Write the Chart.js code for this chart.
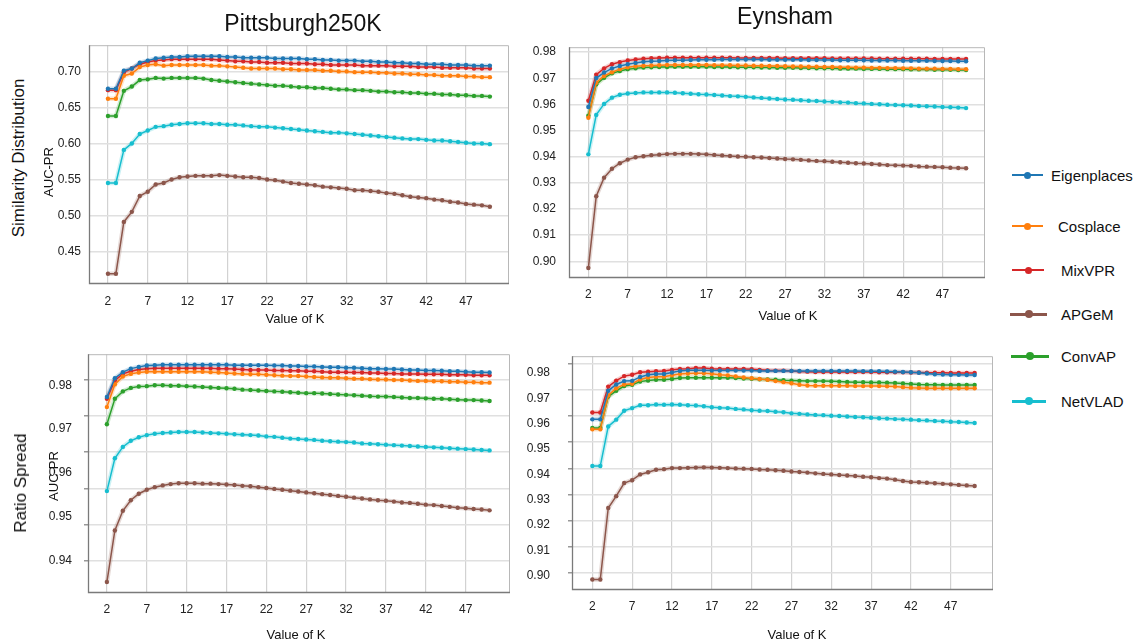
<!DOCTYPE html>
<html>
<head>
<meta charset="utf-8">
<script src="https://cdn.jsdelivr.net/npm/chart.js@4.4.1/dist/chart.umd.min.js"></script>
<style>
body { margin: 0; background: #fff; font-family: "Liberation Sans", Arial, sans-serif; }
#page { position: relative; width: 1134px; height: 643px; overflow: hidden; background: #fff; }
canvas { position: absolute; }
.txt { position: absolute; white-space: nowrap; color: #111; transform: translate(-50%, -50%); z-index: 2; }
.rot { transform: translate(-50%, -50%) rotate(-90deg); }
.leg { position: absolute; height: 0; }
.leg .line { position: absolute; top: 0; }
.leg .dot { position: absolute; border-radius: 50%; }
.leg .name { position: absolute; font-size: 15px; color: #111; white-space: nowrap; transform: translateY(-50%); }
</style>
</head>
<body>
<div id="page">
  <canvas id="pittSim"></canvas>
  <canvas id="eynSim"></canvas>
  <canvas id="pittRatio"></canvas>
  <canvas id="eynRatio"></canvas>

  <div class="txt" style="left:303px;top:23px;font-size:23px;">Pittsburgh250K</div>
  <div class="txt" style="left:785px;top:16px;font-size:23px;">Eynsham</div>
  <div class="txt rot" style="left:19px;top:158px;font-size:17px;">Similarity Distribution</div>
  <div class="txt rot" style="left:21px;top:483px;font-size:17px;">Ratio Spread</div>
  <div class="txt rot" style="left:48px;top:172px;font-size:13px;">AUC-PR</div>
  <div class="txt rot" style="left:53px;top:476px;font-size:13px;">AUC-PR</div>
  <div class="txt" style="left:295px;top:318px;font-size:13px;">Value of K</div>
  <div class="txt" style="left:788px;top:315px;font-size:13px;">Value of K</div>
  <div class="txt" style="left:296px;top:634px;font-size:13px;">Value of K</div>
  <div class="txt" style="left:797px;top:634px;font-size:13px;">Value of K</div>
  <div id="legend"></div>
</div>
<script>
// K from 2 to 50
const kValues = [2, 3, 4, 5, 6, 7, 8, 9, 10, 11, 12, 13, 14, 15, 16, 17, 18, 19, 20, 21, 22, 23, 24, 25, 26,
    27, 28, 29, 30, 31, 32, 33, 34, 35, 36, 37, 38, 39, 40, 41, 42, 43, 44, 45, 46, 47, 48, 49, 50];
const kTicks = [2, 7, 12, 17, 22, 27, 32, 37, 42, 47];

const methods = ['Eigenplaces', 'Cosplace', 'MixVPR', 'APGeM', 'ConvAP', 'NetVLAD'];

// Pittsburgh250K - Similarity Distribution
const pittSimEigenplaces = [0.677, 0.677, 0.702, 0.705, 0.713, 0.716, 0.719, 0.720, 0.721, 0.721, 0.722, 0.722, 0.722, 0.722, 0.722,
    0.721, 0.721, 0.720, 0.720, 0.720, 0.720, 0.719, 0.719, 0.719, 0.719, 0.718, 0.718, 0.717, 0.717, 0.716, 0.716, 0.716,
    0.715, 0.715, 0.714, 0.714, 0.713, 0.713, 0.712, 0.712, 0.711, 0.711, 0.711, 0.710, 0.710, 0.710, 0.709, 0.709, 0.709];
const pittSimCosplace = [0.663, 0.663, 0.695, 0.698, 0.707, 0.710, 0.711, 0.709, 0.710, 0.710, 0.710, 0.710, 0.710, 0.709, 0.709,
    0.708, 0.707, 0.706, 0.705, 0.705, 0.705, 0.705, 0.704, 0.704, 0.703, 0.703, 0.703, 0.702, 0.702, 0.701, 0.701, 0.700,
    0.700, 0.700, 0.699, 0.699, 0.698, 0.698, 0.697, 0.697, 0.696, 0.696, 0.695, 0.695, 0.695, 0.694, 0.694, 0.693, 0.693];
const pittSimMixVPR = [0.675, 0.675, 0.700, 0.705, 0.711, 0.714, 0.716, 0.717, 0.718, 0.718, 0.718, 0.718, 0.718, 0.718, 0.717,
    0.716, 0.715, 0.715, 0.714, 0.714, 0.713, 0.713, 0.713, 0.712, 0.712, 0.712, 0.711, 0.711, 0.710, 0.710, 0.710, 0.710,
    0.709, 0.709, 0.709, 0.709, 0.708, 0.708, 0.708, 0.707, 0.707, 0.707, 0.706, 0.706, 0.706, 0.706, 0.705, 0.705, 0.705];
const pittSimAPGeM = [0.420, 0.420, 0.492, 0.506, 0.528, 0.534, 0.544, 0.546, 0.551, 0.554, 0.555, 0.556, 0.556, 0.556, 0.557,
    0.556, 0.555, 0.554, 0.554, 0.553, 0.551, 0.550, 0.548, 0.546, 0.545, 0.544, 0.543, 0.541, 0.540, 0.539, 0.538, 0.536,
    0.536, 0.535, 0.534, 0.532, 0.531, 0.529, 0.527, 0.526, 0.525, 0.523, 0.522, 0.520, 0.519, 0.517, 0.516, 0.515, 0.513];
const pittSimConvAP = [0.639, 0.639, 0.674, 0.680, 0.689, 0.690, 0.692, 0.691, 0.692, 0.692, 0.692, 0.692, 0.691, 0.689, 0.688,
    0.687, 0.686, 0.685, 0.684, 0.683, 0.682, 0.681, 0.681, 0.680, 0.679, 0.679, 0.678, 0.678, 0.677, 0.676, 0.676, 0.675,
    0.675, 0.674, 0.673, 0.673, 0.672, 0.672, 0.671, 0.671, 0.670, 0.670, 0.669, 0.669, 0.668, 0.668, 0.667, 0.667, 0.666];
const pittSimNetVLAD = [0.546, 0.546, 0.592, 0.601, 0.614, 0.619, 0.624, 0.625, 0.627, 0.628, 0.629, 0.629, 0.629, 0.628, 0.628,
    0.627, 0.627, 0.626, 0.625, 0.624, 0.624, 0.623, 0.622, 0.621, 0.620, 0.619, 0.618, 0.617, 0.616, 0.616, 0.615, 0.614,
    0.613, 0.612, 0.611, 0.610, 0.609, 0.608, 0.607, 0.607, 0.606, 0.605, 0.605, 0.604, 0.603, 0.602, 0.601, 0.601, 0.600];
const pittSimTicks = [0.45, 0.50, 0.55, 0.60, 0.65, 0.70];

// Eynsham - Similarity Distribution
const eynSimEigenplaces = [0.9590, 0.9701, 0.9722, 0.9738, 0.9747, 0.9754, 0.9759, 0.9763, 0.9765, 0.9766, 0.9768, 0.9769, 0.9769,
    0.9770, 0.9771, 0.9771, 0.9771, 0.9772, 0.9772, 0.9772, 0.9772, 0.9772, 0.9772, 0.9771, 0.9771, 0.9771, 0.9771, 0.9771,
    0.9770, 0.9770, 0.9770, 0.9770, 0.9769, 0.9769, 0.9769, 0.9769, 0.9768, 0.9768, 0.9768, 0.9768, 0.9767, 0.9767, 0.9767,
    0.9767, 0.9766, 0.9766, 0.9766, 0.9765, 0.9765];
const eynSimCosplace = [0.9549, 0.9683, 0.9709, 0.9723, 0.9735, 0.9742, 0.9746, 0.9748, 0.9749, 0.9750, 0.9751, 0.9751, 0.9751,
    0.9751, 0.9751, 0.9751, 0.9750, 0.9750, 0.9750, 0.9749, 0.9749, 0.9748, 0.9748, 0.9747, 0.9747, 0.9746, 0.9745, 0.9745,
    0.9744, 0.9744, 0.9743, 0.9743, 0.9742, 0.9742, 0.9741, 0.9741, 0.9740, 0.9740, 0.9739, 0.9739, 0.9738, 0.9738, 0.9737,
    0.9737, 0.9737, 0.9736, 0.9736, 0.9735, 0.9735];
const eynSimMixVPR = [0.9614, 0.9714, 0.9738, 0.9754, 0.9762, 0.9768, 0.9772, 0.9775, 0.9777, 0.9778, 0.9779, 0.9779, 0.9779,
    0.9779, 0.9779, 0.9779, 0.9779, 0.9779, 0.9779, 0.9778, 0.9778, 0.9778, 0.9778, 0.9778, 0.9778, 0.9777, 0.9777, 0.9777,
    0.9777, 0.9777, 0.9777, 0.9776, 0.9776, 0.9776, 0.9776, 0.9776, 0.9776, 0.9775, 0.9775, 0.9775, 0.9775, 0.9775, 0.9775,
    0.9775, 0.9774, 0.9774, 0.9774, 0.9774, 0.9774];
const eynSimAPGeM = [0.8974, 0.9249, 0.9320, 0.9354, 0.9375, 0.9389, 0.9398, 0.9402, 0.9406, 0.9408, 0.9410, 0.9411, 0.9411,
    0.9411, 0.9410, 0.9409, 0.9407, 0.9405, 0.9403, 0.9401, 0.9400, 0.9398, 0.9397, 0.9395, 0.9393, 0.9391, 0.9390, 0.9388,
    0.9386, 0.9384, 0.9383, 0.9381, 0.9379, 0.9377, 0.9375, 0.9374, 0.9372, 0.9370, 0.9368, 0.9367, 0.9366, 0.9365, 0.9363,
    0.9362, 0.9361, 0.9360, 0.9358, 0.9357, 0.9356];
const eynSimConvAP = [0.9557, 0.9677, 0.9702, 0.9719, 0.9728, 0.9735, 0.9738, 0.9741, 0.9742, 0.9743, 0.9743, 0.9744, 0.9744,
    0.9744, 0.9744, 0.9744, 0.9743, 0.9743, 0.9743, 0.9742, 0.9742, 0.9742, 0.9741, 0.9741, 0.9740, 0.9740, 0.9740, 0.9739,
    0.9739, 0.9738, 0.9738, 0.9738, 0.9737, 0.9737, 0.9737, 0.9736, 0.9736, 0.9736, 0.9735, 0.9735, 0.9735, 0.9734, 0.9734,
    0.9734, 0.9733, 0.9733, 0.9733, 0.9732, 0.9732];
const eynSimNetVLAD = [0.9409, 0.9560, 0.9602, 0.9626, 0.9637, 0.9642, 0.9644, 0.9646, 0.9646, 0.9646, 0.9646, 0.9645, 0.9643,
    0.9641, 0.9639, 0.9638, 0.9636, 0.9634, 0.9632, 0.9631, 0.9629, 0.9627, 0.9625, 0.9623, 0.9621, 0.9619, 0.9618, 0.9616,
    0.9614, 0.9613, 0.9611, 0.9610, 0.9608, 0.9607, 0.9605, 0.9604, 0.9602, 0.9601, 0.9599, 0.9598, 0.9597, 0.9596, 0.9594,
    0.9593, 0.9592, 0.9590, 0.9589, 0.9588, 0.9586];
const eynTicks = [0.90, 0.91, 0.92, 0.93, 0.94, 0.95, 0.96, 0.97, 0.98];

// Pittsburgh250K - Ratio Spread
const pittRatioEigenplaces = [0.9773, 0.9816, 0.9830, 0.9838, 0.9842, 0.9845, 0.9846, 0.9847, 0.9847, 0.9847, 0.9847, 0.9847,
    0.9847, 0.9847, 0.9847, 0.9847, 0.9846, 0.9846, 0.9846, 0.9846, 0.9846, 0.9845, 0.9845, 0.9844, 0.9844, 0.9843, 0.9843,
    0.9842, 0.9841, 0.9841, 0.9840, 0.9840, 0.9839, 0.9838, 0.9838, 0.9837, 0.9837, 0.9836, 0.9835, 0.9835, 0.9834, 0.9834,
    0.9833, 0.9832, 0.9832, 0.9831, 0.9830, 0.9830, 0.9829];
const pittRatioCosplace = [0.9750, 0.9802, 0.9820, 0.9826, 0.9829, 0.9831, 0.9831, 0.9831, 0.9831, 0.9831, 0.9831, 0.9831,
    0.9831, 0.9830, 0.9829, 0.9828, 0.9827, 0.9826, 0.9825, 0.9825, 0.9824, 0.9823, 0.9822, 0.9821, 0.9821, 0.9820, 0.9819,
    0.9818, 0.9817, 0.9817, 0.9816, 0.9815, 0.9815, 0.9814, 0.9813, 0.9813, 0.9812, 0.9812, 0.9811, 0.9810, 0.9810, 0.9809,
    0.9809, 0.9808, 0.9808, 0.9807, 0.9807, 0.9806, 0.9806];
const pittRatioMixVPR = [0.9769, 0.9811, 0.9826, 0.9832, 0.9836, 0.9838, 0.9839, 0.9839, 0.9839, 0.9839, 0.9839, 0.9839,
    0.9839, 0.9839, 0.9838, 0.9838, 0.9837, 0.9836, 0.9835, 0.9835, 0.9835, 0.9834, 0.9834, 0.9833, 0.9833, 0.9832, 0.9832,
    0.9831, 0.9830, 0.9830, 0.9830, 0.9829, 0.9829, 0.9828, 0.9828, 0.9827, 0.9827, 0.9826, 0.9826, 0.9826, 0.9825, 0.9825,
    0.9825, 0.9824, 0.9824, 0.9824, 0.9823, 0.9823, 0.9823];
const pittRatioAPGeM = [0.9350, 0.9468, 0.9513, 0.9537, 0.9552, 0.9561, 0.9567, 0.9571, 0.9574, 0.9576, 0.9576, 0.9576,
    0.9575, 0.9575, 0.9574, 0.9573, 0.9572, 0.9570, 0.9569, 0.9567, 0.9565, 0.9563, 0.9561, 0.9559, 0.9557, 0.9555, 0.9553,
    0.9551, 0.9549, 0.9547, 0.9545, 0.9543, 0.9541, 0.9539, 0.9537, 0.9536, 0.9534, 0.9532, 0.9531, 0.9529, 0.9527, 0.9526,
    0.9524, 0.9522, 0.9520, 0.9519, 0.9517, 0.9516, 0.9514];
const pittRatioConvAP = [0.9711, 0.9769, 0.9786, 0.9794, 0.9797, 0.9798, 0.9800, 0.9800, 0.9799, 0.9799, 0.9798, 0.9797,
    0.9796, 0.9795, 0.9794, 0.9793, 0.9792, 0.9790, 0.9789, 0.9788, 0.9787, 0.9786, 0.9785, 0.9784, 0.9783, 0.9782, 0.9782,
    0.9781, 0.9780, 0.9779, 0.9778, 0.9777, 0.9776, 0.9775, 0.9774, 0.9774, 0.9773, 0.9772, 0.9771, 0.9771, 0.9770, 0.9769,
    0.9769, 0.9768, 0.9767, 0.9766, 0.9766, 0.9765, 0.9764];
const pittRatioNetVLAD = [0.9558, 0.9633, 0.9659, 0.9673, 0.9681, 0.9686, 0.9689, 0.9691, 0.9692, 0.9693, 0.9693, 0.9693,
    0.9692, 0.9691, 0.9690, 0.9689, 0.9688, 0.9687, 0.9686, 0.9685, 0.9683, 0.9682, 0.9680, 0.9678, 0.9677, 0.9676, 0.9675,
    0.9673, 0.9672, 0.9671, 0.9670, 0.9669, 0.9667, 0.9666, 0.9665, 0.9664, 0.9663, 0.9662, 0.9661, 0.9660, 0.9659, 0.9658,
    0.9657, 0.9656, 0.9655, 0.9654, 0.9653, 0.9652, 0.9651];
const pittRatioTicks = [0.94, 0.95, 0.96, 0.97, 0.98];
// the gridlines of this panel do not sit on its tick labels
const pittRatioGrid = [0.9398, 0.9481, 0.9564, 0.9648, 0.9730, 0.9813];

// Eynsham - Ratio Spread
const eynRatioEigenplaces = [0.9587, 0.9587, 0.9696, 0.9720, 0.9733, 0.9734, 0.9749, 0.9757, 0.9760, 0.9760, 0.9766, 0.9772,
    0.9774, 0.9774, 0.9774, 0.9773, 0.9773, 0.9773, 0.9773, 0.9773, 0.9773, 0.9772, 0.9772, 0.9772, 0.9772, 0.9772, 0.9772,
    0.9772, 0.9772, 0.9772, 0.9772, 0.9772, 0.9772, 0.9772, 0.9771, 0.9771, 0.9771, 0.9770, 0.9769, 0.9768, 0.9767, 0.9765,
    0.9762, 0.9759, 0.9758, 0.9757, 0.9757, 0.9756, 0.9756];
const eynRatioCosplace = [0.9549, 0.9549, 0.9678, 0.9706, 0.9720, 0.9723, 0.9739, 0.9747, 0.9750, 0.9750, 0.9755, 0.9760,
    0.9762, 0.9763, 0.9763, 0.9761, 0.9757, 0.9755, 0.9751, 0.9747, 0.9744, 0.9741, 0.9738, 0.9733, 0.9729, 0.9725, 0.9719,
    0.9716, 0.9715, 0.9715, 0.9715, 0.9715, 0.9715, 0.9714, 0.9714, 0.9714, 0.9714, 0.9713, 0.9712, 0.9710, 0.9708, 0.9707,
    0.9706, 0.9706, 0.9706, 0.9706, 0.9706, 0.9706, 0.9706];
const eynRatioMixVPR = [0.9613, 0.9613, 0.9712, 0.9735, 0.9752, 0.9757, 0.9767, 0.9769, 0.9771, 0.9772, 0.9776, 0.9779,
    0.9780, 0.9783, 0.9783, 0.9780, 0.9779, 0.9779, 0.9779, 0.9779, 0.9778, 0.9776, 0.9774, 0.9773, 0.9773, 0.9772, 0.9770,
    0.9769, 0.9768, 0.9768, 0.9768, 0.9768, 0.9768, 0.9768, 0.9768, 0.9768, 0.9767, 0.9767, 0.9767, 0.9767, 0.9766, 0.9766,
    0.9765, 0.9765, 0.9765, 0.9764, 0.9764, 0.9764, 0.9764];
const eynRatioAPGeM = [0.8976, 0.8976, 0.9249, 0.9294, 0.9344, 0.9355, 0.9377, 0.9385, 0.9395, 0.9397, 0.9401, 0.9401,
    0.9402, 0.9403, 0.9404, 0.9403, 0.9402, 0.9401, 0.9400, 0.9399, 0.9398, 0.9396, 0.9395, 0.9393, 0.9391, 0.9388, 0.9386,
    0.9384, 0.9381, 0.9379, 0.9377, 0.9375, 0.9373, 0.9371, 0.9368, 0.9366, 0.9363, 0.9361, 0.9357, 0.9352, 0.9348, 0.9347,
    0.9345, 0.9343, 0.9341, 0.9339, 0.9337, 0.9335, 0.9333];
const eynRatioConvAP = [0.9554, 0.9554, 0.9674, 0.9696, 0.9714, 0.9719, 0.9731, 0.9735, 0.9738, 0.9738, 0.9741, 0.9745,
    0.9746, 0.9746, 0.9746, 0.9746, 0.9746, 0.9746, 0.9745, 0.9743, 0.9742, 0.9740, 0.9739, 0.9738, 0.9736, 0.9735, 0.9734,
    0.9733, 0.9733, 0.9733, 0.9732, 0.9731, 0.9730, 0.9729, 0.9729, 0.9728, 0.9728, 0.9727, 0.9726, 0.9724, 0.9722, 0.9720,
    0.9719, 0.9719, 0.9718, 0.9718, 0.9718, 0.9718, 0.9718];
const eynRatioNetVLAD = [0.9409, 0.9409, 0.9560, 0.9586, 0.9620, 0.9630, 0.9641, 0.9641, 0.9644, 0.9643, 0.9644, 0.9643,
    0.9641, 0.9640, 0.9637, 0.9633, 0.9631, 0.9630, 0.9627, 0.9625, 0.9622, 0.9620, 0.9619, 0.9616, 0.9614, 0.9610, 0.9608,
    0.9606, 0.9604, 0.9603, 0.9601, 0.9600, 0.9598, 0.9596, 0.9595, 0.9593, 0.9591, 0.9590, 0.9588, 0.9587, 0.9586, 0.9584,
    0.9583, 0.9581, 0.9580, 0.9578, 0.9577, 0.9575, 0.9573];

const colors = {
    Eigenplaces: '#1f77b4', Cosplace: '#ff7f0e', MixVPR: '#d62728',
    APGeM: '#8c564b', ConvAP: '#2ca02c', NetVLAD: '#17becf'
};
const haloColors = {
    Eigenplaces: 'rgba(31,119,180,0.22)', Cosplace: 'rgba(255,127,14,0.22)', MixVPR: 'rgba(214,39,40,0.22)',
    APGeM: 'rgba(140,86,75,0.22)', ConvAP: 'rgba(44,160,44,0.22)', NetVLAD: 'rgba(23,190,207,0.22)'
};

// plot boxes in page pixels
const panels = [
    { id: 'pittSim', box: { left: 89, top: 42, right: 509, bottom: 284 }, x: [-0.38, 52.4], y: [0.4058, 0.7374],
      ticks: pittSimTicks, yPad: 8, xPad: 10,
      data: [pittSimEigenplaces, pittSimCosplace, pittSimMixVPR, pittSimAPGeM, pittSimConvAP, pittSimNetVLAD] },
    { id: 'eynSim', box: { left: 569, top: 39, right: 985, bottom: 278 }, x: [-0.46, 52.4], y: [0.8936, 0.9819],
      ticks: eynTicks, yPad: 13, xPad: 9,
      data: [eynSimEigenplaces, eynSimCosplace, eynSimMixVPR, eynSimAPGeM, eynSimConvAP, eynSimNetVLAD] },
    { id: 'pittRatio', box: { left: 88, top: 351, right: 510, bottom: 593 }, x: [-0.37, 52.56], y: [0.9325, 0.9871],
      ticks: pittRatioTicks, grid: pittRatioGrid, labelY: [0.9325, 0.9871], yPad: 8, xPad: 9,
      data: [pittRatioEigenplaces, pittRatioCosplace, pittRatioMixVPR, pittRatioAPGeM, pittRatioConvAP, pittRatioNetVLAD] },
    { id: 'eynRatio', box: { left: 572, top: 347, right: 993, bottom: 590 }, x: [-0.55, 52.3], y: [0.8936, 0.9828],
      ticks: eynTicks, grid: eynTicks, labelY: [0.8943, 0.9867], yPad: 14, xPad: 9,
      data: [eynRatioEigenplaces, eynRatioCosplace, eynRatioMixVPR, eynRatioAPGeM, eynRatioConvAP, eynRatioNetVLAD] }
];

const framePlugin = {
    id: 'frame',
    afterDatasetsDraw(chart) {
        const { ctx, chartArea: a } = chart;
        ctx.save();
        ctx.lineWidth = 1;
        ctx.strokeStyle = '#b8b8b8';
        ctx.beginPath();
        ctx.moveTo(a.left, a.top + 0.5); ctx.lineTo(a.right - 0.5, a.top + 0.5); ctx.lineTo(a.right - 0.5, a.bottom);
        ctx.stroke();
        ctx.lineWidth = 1.3;
        ctx.strokeStyle = '#7a7a7a';
        ctx.beginPath();
        ctx.moveTo(a.left + 0.5, a.top); ctx.lineTo(a.left + 0.5, a.bottom - 0.5); ctx.lineTo(a.right, a.bottom - 0.5);
        ctx.stroke();
        ctx.restore();
    }
};

const tickFont = { family: '"Liberation Sans", Arial, sans-serif', size: 12 };
const setTicks = vals => axis => { axis.ticks = vals.map(v => ({ value: v })); };

function makePanel(p) {
    const canvas = document.getElementById(p.id);
    const W = p.box.right - p.box.left + 72;
    const H = p.box.bottom - p.box.top + 52;
    canvas.width = W; canvas.height = H;
    canvas.style.width = W + 'px'; canvas.style.height = H + 'px';
    canvas.style.left = (p.box.left - 60) + 'px';
    canvas.style.top = (p.box.top - 12) + 'px';

    const scales = {
        x: {
            type: 'linear', min: p.x[0], max: p.x[1],
            afterBuildTicks: setTicks(kTicks),
            afterFit: a => { a.height = 40; },
            grid: { color: '#d2d2d2', lineWidth: 1.2, drawTicks: false },
            border: { display: false },
            ticks: { padding: p.xPad, color: '#222', font: tickFont, callback: v => String(v) }
        }
    };
    if (p.grid) {
        // one axis for the gridlines, one for the printed labels
        scales.y = {
            type: 'linear', position: 'left', min: p.y[0], max: p.y[1],
            afterBuildTicks: setTicks(p.grid),
            afterFit: a => { a.width = 0; },
            grid: { color: '#e0e0e0', lineWidth: 1.5, drawTicks: true, tickLength: 4, tickColor: '#999' },
            border: { display: false },
            ticks: { display: false }
        };
        scales.yl = {
            type: 'linear', position: 'left', min: p.labelY[0], max: p.labelY[1],
            afterBuildTicks: setTicks(p.ticks),
            afterFit: a => { a.width = 60; },
            grid: { display: false },
            border: { display: false },
            ticks: { padding: p.yPad, color: '#222', font: tickFont, callback: v => v.toFixed(2) }
        };
    } else {
        scales.y = {
            type: 'linear', position: 'left', min: p.y[0], max: p.y[1],
            afterBuildTicks: setTicks(p.ticks),
            afterFit: a => { a.width = 60; },
            grid: { color: '#e0e0e0', lineWidth: 1.5, drawTicks: false },
            border: { display: false },
            ticks: { padding: p.yPad, color: '#222', font: tickFont, callback: v => v.toFixed(2) }
        };
    }

    const datasets = [];
    methods.forEach((m, i) => {
        const pts = kValues.map((k, j) => ({ x: k, y: p.data[i][j] }));
        datasets.push({
            label: m, data: pts, order: 0, yAxisID: 'y',
            borderColor: colors[m], backgroundColor: colors[m],
            borderWidth: 1.5, pointRadius: 2.2, pointBorderWidth: 0, tension: 0
        });
        // soft band under each line
        datasets.push({
            label: m + ' band', data: pts, order: 1, yAxisID: 'y',
            borderColor: haloColors[m], borderWidth: 4.5, pointRadius: 0, tension: 0
        });
    });

    new Chart(canvas, {
        type: 'line',
        data: { datasets: datasets },
        options: {
            responsive: false,
            animation: false,
            devicePixelRatio: 1,
            layout: { padding: { top: 12, right: 12, left: 0, bottom: 0 } },
            plugins: { legend: { display: false }, tooltip: { enabled: false } },
            scales: scales
        },
        plugins: [framePlugin]
    });
}

panels.forEach(makePanel);

// legend on the right
const legendRows = [
    { y: 175, textX: 1051, x0: 1012, x1: 1043, lw: 2, dot: 7 },
    { y: 226, textX: 1058, x0: 1012, x1: 1043, lw: 2, dot: 7 },
    { y: 270, textX: 1061, x0: 1012, x1: 1044, lw: 2, dot: 7 },
    { y: 314, textX: 1061, x0: 1010, x1: 1047, lw: 3, dot: 8 },
    { y: 356, textX: 1061, x0: 1011, x1: 1049, lw: 3, dot: 8 },
    { y: 401, textX: 1061, x0: 1012, x1: 1046, lw: 3, dot: 8 }
];
const legend = document.getElementById('legend');
methods.forEach((m, i) => {
    const r = legendRows[i];
    const mid = (r.x0 + r.x1) / 2;
    legend.insertAdjacentHTML('beforeend',
        `<div class="leg" style="left:0;top:${r.y}px;">
            <div class="line" style="left:${r.x0}px;width:${r.x1 - r.x0}px;height:${r.lw}px;margin-top:${-r.lw / 2}px;background:${colors[m]};"></div>
            <div class="dot" style="left:${mid - r.dot / 2}px;top:${-r.dot / 2}px;width:${r.dot}px;height:${r.dot}px;background:${colors[m]};"></div>
            <div class="name" style="left:${r.textX}px;">${m}</div>
        </div>`);
});
</script>
</body>
</html>
